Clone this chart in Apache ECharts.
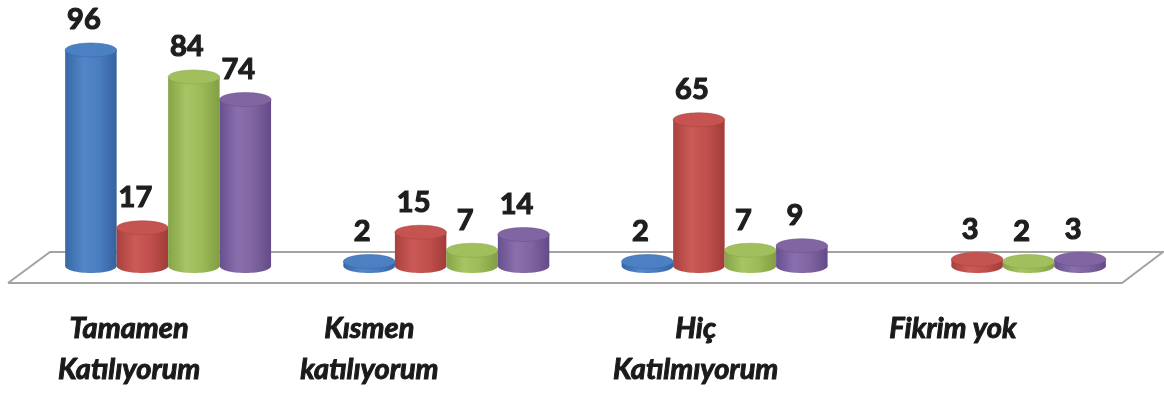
<!DOCTYPE html>
<html>
<head>
<meta charset="utf-8">
<script src="https://cdn.jsdelivr.net/npm/echarts@6/dist/echarts.min.js"></script>
<style>
  html, body { margin: 0; padding: 0; background: #ffffff; }
  #chart { width: 1164px; height: 394px; }
</style>
</head>
<body>
<div id="chart"></div>
<script>
// Survey answers, four response groups
const categories = ['Tamamen\nKatılıyorum', 'Kısmen\nkatılıyorum', 'Hiç\nKatılmıyorum', 'Fikrim yok'];
const seriesBlue   = [96, 2, 2, null];
const seriesRed    = [17, 15, 65, 3];
const seriesGreen  = [84, 7, 7, 2];
const seriesPurple = [74, 14, 9, 3];

// Horizontal nudge of each category caption (px, negative = left)
const captionShift = [-39, -77, -29, -50];

// Cylinder shading per series: side gradient stops and cap colour
const palette = [
  { side: ['#3767a5', '#5286c8', '#4a7ec0', '#3562a0'], cap: '#4b80c3' },
  { side: ['#a8413e', '#cc5a56', '#c0504d', '#a23c39'], cap: '#c55350' },
  { side: ['#86a447', '#a6c564', '#9bbb59', '#819e43'], cap: '#a1c05d' },
  { side: ['#684f8d', '#8a6fae', '#8064a2', '#644a88'], cap: '#8165a3' }
];

const allSeries = [seriesBlue, seriesRed, seriesGreen, seriesPurple];

function cylinderRenderer(sIdx) {
  return function (params, api) {
    const val = api.value(1);
    if (val === null || val === undefined || isNaN(val)) return;
    const cat = api.value(0);
    const base = api.coord([cat, 0]);
    const top = api.coord([cat, val]);
    const band = api.size([1, 0])[0];
    const w = band * 0.185;
    const cx = base[0] + (sIdx - 1.5) * w;
    const rx = w / 2;
    const ry = 7;
    const c = palette[sIdx];
    const grad = {
      type: 'linear', x: 0, y: 0, x2: 1, y2: 0,
      colorStops: [
        { offset: 0, color: c.side[0] },
        { offset: 0.35, color: c.side[1] },
        { offset: 0.65, color: c.side[2] },
        { offset: 1, color: c.side[3] }
      ]
    };
    return {
      type: 'group',
      children: [
        { type: 'ellipse', shape: { cx: cx, cy: base[1], rx: rx, ry: ry }, style: { fill: grad } },
        { type: 'rect', shape: { x: cx - rx, y: top[1], width: w, height: base[1] - top[1] }, style: { fill: grad } },
        { type: 'ellipse', shape: { cx: cx, cy: top[1], rx: rx, ry: ry }, style: { fill: c.cap, stroke: c.side[0], lineWidth: 0.5 } },
        {
          type: 'text',
          style: {
            text: String(val), x: cx - 7, y: top[1] - 30,
            align: 'center', verticalAlign: 'middle',
            font: 'bold 29px Lato', fill: '#1e1e1e',
            stroke: '#1e1e1e', lineWidth: 1.2
          }
        }
      ]
    };
  };
}

const rich = {};
captionShift.forEach(function (s, i) {
  rich['c' + i] = {
    fontFamily: 'Lato', fontStyle: 'italic', fontWeight: 'bold',
    fontSize: 29, lineHeight: 41, color: '#1a1a1a',
    textBorderColor: '#1a1a1a', textBorderWidth: 1,
    padding: [0, -2 * s, 0, 0]
  };
});

const chart = echarts.init(document.getElementById('chart'), null, { renderer: 'canvas' });
chart.setOption({
  animation: false,
  backgroundColor: '#ffffff',
  grid: { left: 29, right: 22, top: 41, bottom: 128 },
  xAxis: {
    type: 'category',
    data: categories,
    axisLine: { show: false },
    axisTick: { show: false },
    splitLine: { show: false },
    axisLabel: {
      interval: 0,
      margin: 42,
      lineHeight: 41,
      formatter: function (value, idx) {
        return value.split('\n').map(function (line) {
          return '{c' + idx + '|' + line + '}';
        }).join('\n');
      },
      rich: rich
    }
  },
  yAxis: { type: 'value', min: 0, max: 100, show: false, splitLine: { show: false } },
  // floor plane under the cylinders
  graphic: [{
    type: 'polyline',
    z: 0,
    shape: { points: [[8, 283], [1122, 283], [1163, 252], [50, 252], [8, 283]] },
    style: { stroke: '#a3a3a3', lineWidth: 2, fill: null }
  }],
  series: allSeries.map(function (arr, sIdx) {
    return {
      type: 'custom',
      z: 3,
      renderItem: cylinderRenderer(sIdx),
      data: arr.map(function (v, i) { return [i, v]; }),
      encode: { x: 0, y: 1 }
    };
  })
});
</script>
</body>
</html>
